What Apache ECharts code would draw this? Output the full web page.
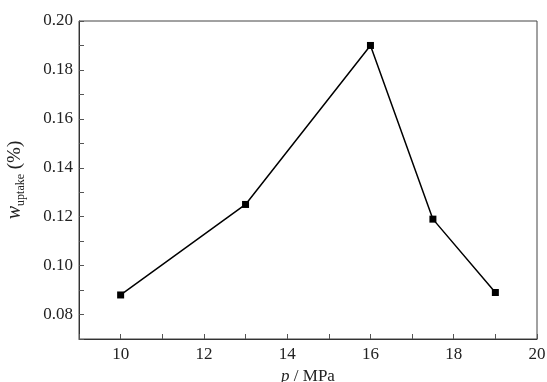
<!DOCTYPE html>
<html>
<head>
<meta charset="utf-8">
<script src="https://cdn.jsdelivr.net/npm/echarts@6/dist/echarts.min.js"></script>
<style>html,body{margin:0;padding:0;background:#fff}#c{width:547px;height:382px}</style>
</head>
<body>
<div id="c"></div>
<script>
var pressure = [10, 13, 16, 17.5, 19];
var uptake = [0.088, 0.125, 0.190, 0.119, 0.089];
var xTicks = [10, 12, 14, 16, 18, 20];
var yTicks = [0.08, 0.10, 0.12, 0.14, 0.16, 0.18, 0.20];

var font = 'Liberation Serif';
var chart = echarts.init(document.getElementById('c'));
chart.setOption({
  animation: false,
  backgroundColor: '#fff',
  grid: {left: 79, right: 10, top: 21, bottom: 43, show: true, borderColor: '#444', borderWidth: 1,
         containLabel: false, outerBoundsMode: 'none'},
  xAxis: {
    type: 'value', min: 9, max: 20, interval: 1,
    axisLine: {show: true, lineStyle: {color: '#333', width: 1}},
    axisTick: {show: true, inside: true, length: 5, lineStyle: {color: '#555'}},
    splitLine: {show: false},
    axisLabel: {
      fontFamily: font, fontSize: 17, color: '#222', margin: 7,
      formatter: function (v) { return xTicks.indexOf(v) >= 0 ? String(v) : ''; }
    },
    name: '{i|p} / MPa', nameLocation: 'middle', nameGap: 29,
    nameTextStyle: {fontFamily: font, fontSize: 17, color: '#222',
      rich: {i: {fontFamily: font, fontStyle: 'italic', fontSize: 17, color: '#222'}}}
  },
  yAxis: {
    type: 'value', min: 0.07, max: 0.20, interval: 0.01,
    axisLine: {show: true, lineStyle: {color: '#333', width: 1}},
    axisTick: {show: true, inside: true, length: 5, lineStyle: {color: '#555'}},
    splitLine: {show: false},
    axisLabel: {
      fontFamily: font, fontSize: 17, color: '#222', margin: 6,
      formatter: function (v) {
        for (var k = 0; k < yTicks.length; k++) { if (Math.abs(yTicks[k] - v) < 1e-6) return yTicks[k].toFixed(2); }
        return '';
      }
    },
    name: '{i|w}{s|uptake} (%)', nameLocation: 'middle', nameGap: 52, nameRotate: 90,
    nameTextStyle: {fontFamily: font, fontSize: 19, color: '#222',
      rich: {
        i: {fontFamily: font, fontStyle: 'italic', fontSize: 20, color: '#222', lineHeight: 24},
        s: {fontFamily: font, fontSize: 12, color: '#222', verticalAlign: 'bottom', lineHeight: 16, padding: [9, 0, 0, 0]}
      }}
  },
  series: [{
    type: 'line',
    data: pressure.map(function (p, i) { return [p, uptake[i]]; }),
    symbol: 'rect', symbolSize: 7,
    lineStyle: {color: '#000', width: 1.5},
    itemStyle: {color: '#000'}
  }]
});
</script>
</body>
</html>
